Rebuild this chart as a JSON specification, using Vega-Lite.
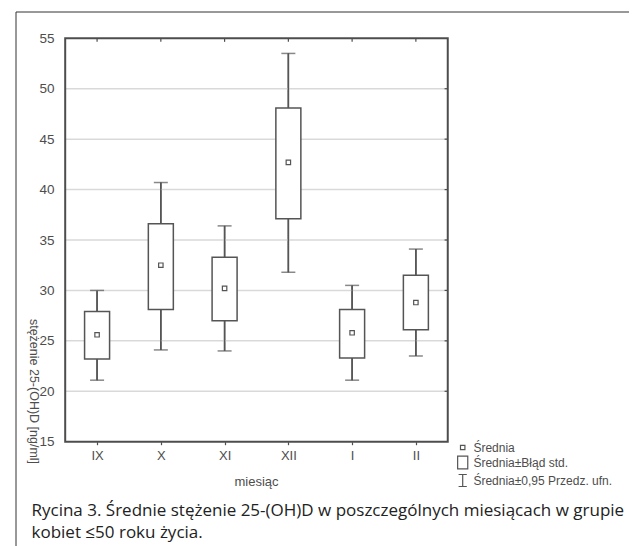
{
  "$schema": "https://vega.github.io/schema/vega-lite/v6.json",
  "width": 623,
  "height": 534,
  "autosize": "none",
  "padding": {"left": 11, "top": 12, "right": 0, "bottom": 0},
  "background": "white",
  "config": {"view": {"stroke": null}, "font": "Liberation Sans"},
  "title": {
    "text": ["Rycina 3. Średnie stężenie 25-(OH)D w poszczególnych miesiącach w grupie", "kobiet ≤50 roku życia."],
    "orient": "bottom",
    "anchor": "start",
    "frame": "group",
    "offset": -30.7,
    "dx": 20.5,
    "font": "Open Sans",
    "fontSize": 17,
    "fontWeight": "normal",
    "color": "#222222",
    "baseline": "alphabetic",
    "lineHeight": 22
  },
  "datasets": {
    "stats": [
      {"m": "IX", "mean": 25.6, "se_lo": 23.2, "se_hi": 27.9, "ci_lo": 21.1, "ci_hi": 30.0},
      {"m": "X", "mean": 32.5, "se_lo": 28.1, "se_hi": 36.6, "ci_lo": 24.1, "ci_hi": 40.7},
      {"m": "XI", "mean": 30.2, "se_lo": 27.0, "se_hi": 33.3, "ci_lo": 24.0, "ci_hi": 36.4},
      {"m": "XII", "mean": 42.7, "se_lo": 37.1, "se_hi": 48.1, "ci_lo": 31.8, "ci_hi": 53.5},
      {"m": "I", "mean": 25.8, "se_lo": 23.3, "se_hi": 28.1, "ci_lo": 21.1, "ci_hi": 30.5},
      {"m": "II", "mean": 28.8, "se_lo": 26.1, "se_hi": 31.5, "ci_lo": 23.5, "ci_hi": 34.1}
    ],
    "grid": [{"g": 20}, {"g": 25}, {"g": 30}, {"g": 35}, {"g": 40}, {"g": 45}, {"g": 50}],
    "one": [{"k": 1}]
  },
  "layer": [
    {
      "data": {"name": "stats"},
      "transform": [{"calculate": "indexof(['IX','X','XI','XII','I','II'], datum.m) + 1", "as": "pos"}],
      "mark": {"type": "rule", "color": "#555555", "strokeWidth": 1.5},
      "encoding": {
        "x": {
          "field": "pos", "type": "quantitative",
          "scale": {"domain": [-0.2716, 9.3426], "nice": false, "zero": false},
          "axis": {
            "title": "miesiąc",
            "values": [1, 2, 3, 4, 5, 6],
            "labelExpr": "['IX','X','XI','XII','I','II'][datum.value - 1]",
            "offset": -104.3,
            "domain": false,
            "grid": false,
            "ticks": true,
            "tickSize": 3,
            "tickColor": "#4d4d4d",
            "tickWidth": 1.2,
            "labelPadding": 5,
            "labelFont": "Liberation Sans",
            "labelFontSize": 13,
            "labelColor": "#4d4d4d",
            "labelFlush": false,
            "labelOverlap": false,
            "titleFont": "Liberation Sans",
            "titleFontSize": 13,
            "titleFontWeight": "normal",
            "titleColor": "#4d4d4d",
            "titleX": 245,
            "titleY": 40,
            "titleAlign": "center",
            "titleBaseline": "middle"
          }
        },
        "y": {
          "field": "ci_lo", "type": "quantitative",
          "scale": {"domain": [4.658, 57.608], "nice": false, "zero": false},
          "axis": {
            "title": "stężenie 25-(OH)D [ng/ml]",
            "values": [15, 20, 25, 30, 35, 40, 45, 50, 55],
            "offset": -50,
            "domain": false,
            "ticks": false,
            "grid": false,
            "labelPadding": 7,
            "labelFont": "Liberation Sans",
            "labelFontSize": 13.5,
            "labelColor": "#4d4d4d",
            "labelFlush": false,
            "labelOverlap": false,
            "titleFont": "Liberation Sans",
            "titleFontSize": 12.5,
            "titleFontWeight": "normal",
            "titleColor": "#4d4d4d",
            "titleAngle": 90,
            "titleX": -28,
            "titleY": 379,
            "titleAlign": "center",
            "titleBaseline": "middle"
          }
        },
        "y2": {"field": "ci_hi"}
      }
    },
    {
      "data": {"name": "one"},
      "mark": {"type": "rule", "color": "#333333", "strokeWidth": 1},
      "encoding": {
        "x": {"datum": -0.2716, "type": "quantitative"},
        "x2": {"datum": 9.3426},
        "y": {"datum": 57.608, "type": "quantitative"}
      }
    },
    {
      "data": {"name": "one"},
      "mark": {"type": "rule", "color": "#333333", "strokeWidth": 1},
      "encoding": {
        "x": {"datum": -0.2716, "type": "quantitative"},
        "y": {"datum": 4.658, "type": "quantitative"},
        "y2": {"datum": 57.608}
      }
    },
    {
      "data": {"name": "grid"},
      "mark": {"type": "rule", "color": "#d9d9d9", "strokeWidth": 1.5},
      "encoding": {
        "x": {"datum": 0.5, "type": "quantitative"},
        "x2": {"datum": 6.5},
        "y": {"field": "g", "type": "quantitative"}
      }
    },
    {
      "data": {"name": "stats"},
      "transform": [{"calculate": "indexof(['IX','X','XI','XII','I','II'], datum.m) + 1", "as": "pos"}],
      "mark": {"type": "rule", "color": "#555555", "strokeWidth": 1.5},
      "encoding": {
        "x": {"field": "pos", "type": "quantitative"},
        "y": {"field": "ci_lo", "type": "quantitative"},
        "y2": {"field": "ci_hi"}
      }
    },
    {
      "data": {"name": "stats"},
      "transform": [{"calculate": "indexof(['IX','X','XI','XII','I','II'], datum.m) + 1", "as": "pos"}],
      "mark": {"type": "bar", "size": 25, "fill": "white", "stroke": "#555555", "strokeWidth": 1.5},
      "encoding": {
        "x": {"field": "pos", "type": "quantitative"},
        "y": {"field": "se_lo", "type": "quantitative"},
        "y2": {"field": "se_hi"}
      }
    },
    {
      "data": {"name": "stats"},
      "transform": [{"calculate": "indexof(['IX','X','XI','XII','I','II'], datum.m) + 1", "as": "pos"}],
      "mark": {"type": "tick", "orient": "horizontal", "size": 14, "thickness": 1.5, "color": "#555555"},
      "encoding": {
        "x": {"field": "pos", "type": "quantitative"},
        "y": {"field": "ci_lo", "type": "quantitative"}
      }
    },
    {
      "data": {"name": "stats"},
      "transform": [{"calculate": "indexof(['IX','X','XI','XII','I','II'], datum.m) + 1", "as": "pos"}],
      "mark": {"type": "tick", "orient": "horizontal", "size": 14, "thickness": 1.5, "color": "#555555"},
      "encoding": {
        "x": {"field": "pos", "type": "quantitative"},
        "y": {"field": "ci_hi", "type": "quantitative"}
      }
    },
    {
      "data": {"name": "one"},
      "mark": {"type": "rect", "fill": null, "fillOpacity": 0, "stroke": "#4d4d4d", "strokeWidth": 2},
      "encoding": {
        "x": {"datum": 0.5, "type": "quantitative"},
        "x2": {"datum": 6.5},
        "y": {"datum": 15, "type": "quantitative"},
        "y2": {"datum": 55}
      }
    },
    {
      "data": {"name": "stats"},
      "transform": [{"calculate": "indexof(['IX','X','XI','XII','I','II'], datum.m) + 1", "as": "pos"}],
      "mark": {"type": "rule", "color": "#4d4d4d", "strokeWidth": 1.2},
      "encoding": {
        "x": {"field": "pos", "type": "quantitative"},
        "y": {"datum": 55, "type": "quantitative"},
        "y2": {"datum": 54.65}
      }
    },
    {
      "data": {"name": "grid"},
      "mark": {"type": "rule", "color": "#4d4d4d", "strokeWidth": 1.2},
      "encoding": {
        "x": {"datum": 6.5, "type": "quantitative"},
        "x2": {"datum": 6.45},
        "y": {"field": "g", "type": "quantitative"}
      }
    },
    {
      "data": {"name": "stats"},
      "transform": [{"calculate": "indexof(['IX','X','XI','XII','I','II'], datum.m) + 1", "as": "pos"}],
      "mark": {"type": "point", "filled": false, "size": 160, "color": "#555555", "strokeWidth": 1.2, "opacity": 1},
      "encoding": {
        "x": {"field": "pos", "type": "quantitative"},
        "y": {"field": "mean", "type": "quantitative"},
        "shape": {
          "datum": "Średnia",
          "type": "nominal",
          "scale": {
            "domain": ["Średnia", "Średnia±Błąd std.", "Średnia±0,95 Przedz. ufn."],
            "range": ["M-0.35,-0.35H0.35V0.35H-0.35Z", "M-0.8,-1H0.8V1H-0.8Z", "M-0.65,-0.95H0.65M0,-0.95V0.95M-0.65,0.95H0.65"]
          },
          "legend": {
            "orient": "none",
            "legendX": 444.7,
            "legendY": 428.5,
            "title": null,
            "padding": 0,
            "symbolSize": 160,
            "symbolStrokeWidth": 1.2,
            "symbolStrokeColor": "#555555",
            "symbolFillColor": "white",
            "labelFont": "Liberation Sans",
            "labelFontSize": 12,
            "labelColor": "#4d4d4d",
            "labelOffset": 3.7,
            "labelLimit": 300,
            "rowPadding": 0
          }
        }
      }
    }
  ]
}
